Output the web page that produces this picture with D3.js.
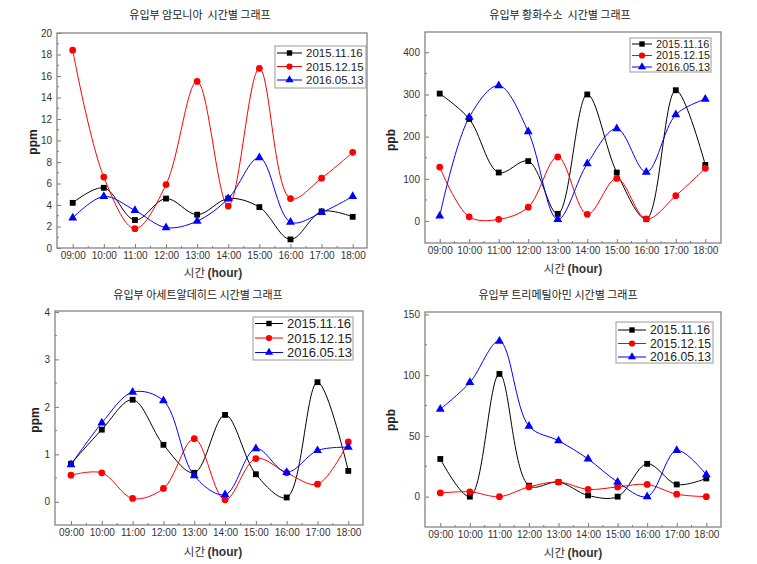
<!DOCTYPE html>
<html><head><meta charset="utf-8">
<script src="https://cdn.jsdelivr.net/npm/d3@7"></script>
<style>body{margin:0;background:#fff}</style>
</head><body><svg id="c" width="757" height="564" xmlns="http://www.w3.org/2000/svg"></svg>
<script>
// ---------- data ----------
const hours = ["09:00","10:00","11:00","12:00","13:00","14:00","15:00","16:00","17:00","18:00"];
const seriesNames = ["2015.11.16","2015.12.15","2016.05.13"];
const seriesColors = ["#000000","#ff0000","#0000ff"];
const seriesSymbols = ["square","circle","triangle"];

// 암모니아 (ppm)
const nh3_20151116 = [4.2, 5.6, 2.6, 4.6, 3.1, 4.6, 3.8, 0.8, 3.4, 2.9];
const nh3_20151215 = [18.4, 6.6, 1.8, 5.9, 15.5, 3.9, 16.7, 4.6, 6.5, 8.9];
const nh3_20160513 = [2.8, 4.8, 3.5, 1.9, 2.5, 4.6, 8.4, 2.4, 3.3, 4.8];
const nh3_ticks = [0,2,4,6,8,10,12,14,16,18,20];

// 황화수소 (ppb)
const h2s_20151116 = [302, 242, 115, 142, 17, 300, 115, 5, 310, 133];
const h2s_20151215 = [128, 10, 4, 33, 152, 16, 101, 5, 60, 125];
const h2s_20160513 = [12, 246, 321, 212, 4, 136, 219, 116, 252, 289];
const h2s_ticks = [0,100,200,300,400];

// 아세트알데히드 (ppm)
const ace_20151116 = [0.80, 1.52, 2.15, 1.20, 0.61, 1.83, 0.58, 0.09, 2.52, 0.65];
const ace_20151215 = [0.56, 0.61, 0.07, 0.28, 1.33, 0.04, 0.91, 0.61, 0.37, 1.26];
const ace_20160513 = [0.78, 1.66, 2.31, 2.13, 0.55, 0.15, 1.12, 0.62, 1.08, 1.15];
const ace_ticks = [0,1,2,3,4];

// 트리메틸아민 (ppb)
const tma_20151116 = [31, 0, 101, 9, 12, 1, 0, 27, 10, 15];
const tma_20151215 = [3, 4, 0, 8, 12, 6, 8, 10, 2, 0];
const tma_20160513 = [72, 94, 128, 58, 46, 31, 12, 0, 38, 18];
const tma_ticks = [0,50,100,150];

// ---------- layout ----------
const panels = [
  {title:"유입부 암모니아  시간별 그래프", unit:"ppm", series:[nh3_20151116,nh3_20151215,nh3_20160513],
   ticks:nh3_ticks, minorStep:1, domain:[0,20],
   box:{l:57,r:367,t:33,b:248}, xr:[72.7,352.7], titleX:200, titleY:19, xlabY:277, xlabX:213, ylabX:37, ylabY:142,
   leg:{x:275,y:46,w:91,h:42,rows:[53,66.5,80],lx:[277,302],tx:306,fs:11.5}},
  {title:"유입부 황화수소  시간별 그래프", unit:"ppb", series:[h2s_20151116,h2s_20151215,h2s_20160513],
   ticks:h2s_ticks, minorStep:50, domain:[-52,448],
   box:{l:425,r:721,t:32,b:243}, xr:[439.7,705.3], titleX:560, titleY:19, xlabY:273, xlabX:573, ylabX:395, ylabY:140,
   leg:{x:630,y:38,w:81,h:34,rows:[44,55.5,67],lx:[632,652],tx:656,fs:10.8}},
  {title:"유입부 아세트알데히드 시간별 그래프", unit:"ppm", series:[ace_20151116,ace_20151215,ace_20160513],
   ticks:ace_ticks, minorStep:0.5, domain:[-0.49,4.02],
   box:{l:55,r:363,t:311,b:525}, xr:[71,348.3], titleX:198, titleY:299, xlabY:556, xlabX:213, ylabX:39, ylabY:420,
   leg:{x:253,y:317,w:100,h:43,rows:[323.5,338,352.5],lx:[255,283],tx:287,fs:13}},
  {title:"유입부 트리메틸아민 시간별 그래프", unit:"ppb", series:[tma_20151116,tma_20151215,tma_20160513],
   ticks:tma_ticks, minorStep:25, domain:[-25,152],
   box:{l:425,r:721,t:312,b:527}, xr:[440.3,706.3], titleX:558, titleY:299, xlabY:557, xlabX:573, ylabX:395, ylabY:420,
   leg:{x:616,y:322,w:97,h:41,rows:[330,343.5,357],lx:[618,646],tx:650,fs:12.2}}
];

const svg = d3.select("#c");
const frameColor = "#7a7a7a";
const textColor = "#333";

function symbolPath(kind, size){
  const t = kind==="square"?d3.symbolSquare:kind==="circle"?d3.symbolCircle:d3.symbolTriangle;
  return d3.symbol().type(t).size(size)();
}
const symSize = {square:34, circle:36, triangle:34};

panels.forEach(p => {
  const g = svg.append("g");
  const x = d3.scalePoint().domain(hours).range(p.xr);
  const y = d3.scaleLinear().domain(p.domain).range([p.box.b, p.box.t]);

  // title
  g.append("text").attr("x",p.titleX).attr("y",p.titleY).attr("text-anchor","middle")
    .style("white-space","pre")
    .attr("font-family","'Noto Sans CJK KR', sans-serif").attr("font-size",11).attr("fill","#222")
    .text(p.title);

  // frame
  g.append("rect").attr("x",p.box.l).attr("y",p.box.t).attr("width",p.box.r-p.box.l).attr("height",p.box.b-p.box.t)
    .attr("fill","none").attr("stroke",frameColor).attr("stroke-width",1.2);

  // x axis (ticks inward)
  const xAxis = d3.axisBottom(x).tickSize(-4).tickPadding(4);
  const xg = g.append("g").attr("transform",`translate(0,${p.box.b})`).call(xAxis);
  xg.select(".domain").remove();
  xg.selectAll("line").attr("stroke",frameColor);
  xg.selectAll("text").attr("font-family","'Liberation Sans', Arial, sans-serif").attr("font-size",10).attr("fill",textColor);
  // minor x ticks
  for(let i=0;i<hours.length-1;i++){
    const mx = (x(hours[i])+x(hours[i+1]))/2;
    g.append("line").attr("x1",mx).attr("x2",mx).attr("y1",p.box.b).attr("y2",p.box.b-2).attr("stroke",frameColor);
  }

  // y axis
  const yAxis = d3.axisLeft(y).tickValues(p.ticks).tickSize(-4).tickPadding(5).tickFormat(d3.format("~g"));
  const yg = g.append("g").attr("transform",`translate(${p.box.l},0)`).call(yAxis);
  yg.select(".domain").remove();
  yg.selectAll("line").attr("stroke",frameColor);
  yg.selectAll("text").attr("font-family","'Liberation Sans', Arial, sans-serif").attr("font-size",10).attr("fill",textColor);
  // minor y ticks
  const lo = p.ticks[0], hi = p.ticks[p.ticks.length-1];
  for(let v=lo+p.minorStep; v<hi; v+=p.minorStep){
    if(p.ticks.some(t=>Math.abs(t-v)<1e-9)) continue;
    g.append("line").attr("x1",p.box.l).attr("x2",p.box.l+2).attr("y1",y(v)).attr("y2",y(v)).attr("stroke",frameColor);
  }

  // axis labels
  const xl = g.append("text").attr("x",p.xlabX).attr("y",p.xlabY).attr("text-anchor","middle")
    .attr("font-family","'Noto Sans CJK KR', sans-serif").attr("font-size",11.5).attr("fill","#333");
  xl.append("tspan").text("시간 ");
  xl.append("tspan").attr("font-family","'Liberation Sans', Arial, sans-serif").attr("font-weight","bold").attr("font-size",12).text("(hour)");
  g.append("text").attr("transform",`translate(${p.ylabX},${p.ylabY}) rotate(-90)`).attr("text-anchor","middle")
    .attr("font-family","'Liberation Sans', Arial, sans-serif").attr("font-weight","bold").attr("font-size",12).attr("fill","#222")
    .text(p.unit);

  // series
  const line = d3.line().x((d,i)=>x(hours[i])).y(d=>y(d)).curve(d3.curveCatmullRom.alpha(0.5));
  p.series.forEach((vals, si) => {
    g.append("path").attr("d",line(vals)).attr("fill","none").attr("stroke",seriesColors[si]).attr("stroke-width",1);
  });
  p.series.forEach((vals, si) => {
    g.selectAll(null).data(vals).enter().append("path")
      .attr("d",symbolPath(seriesSymbols[si], symSize[seriesSymbols[si]]))
      .attr("transform",(d,i)=>`translate(${x(hours[i])},${y(d)})`)
      .attr("fill",seriesColors[si]);
  });

  // legend
  const L = p.leg;
  g.append("rect").attr("x",L.x).attr("y",L.y).attr("width",L.w).attr("height",L.h)
    .attr("fill","#fff").attr("stroke","#999").attr("stroke-width",1);
  seriesNames.forEach((name, si) => {
    const ry = L.rows[si];
    g.append("line").attr("x1",L.lx[0]).attr("x2",L.lx[1]).attr("y1",ry).attr("y2",ry).attr("stroke",seriesColors[si]).attr("stroke-width",1);
    g.append("path").attr("d",symbolPath(seriesSymbols[si], symSize[seriesSymbols[si]]*0.85))
      .attr("transform",`translate(${(L.lx[0]+L.lx[1])/2},${ry})`).attr("fill",seriesColors[si]);
    g.append("text").attr("x",L.tx).attr("y",ry).attr("dy","0.36em")
      .attr("font-family","'Liberation Sans', Arial, sans-serif").attr("font-size",L.fs).attr("fill","#222").text(name);
  });
});
</script>
</body></html>
